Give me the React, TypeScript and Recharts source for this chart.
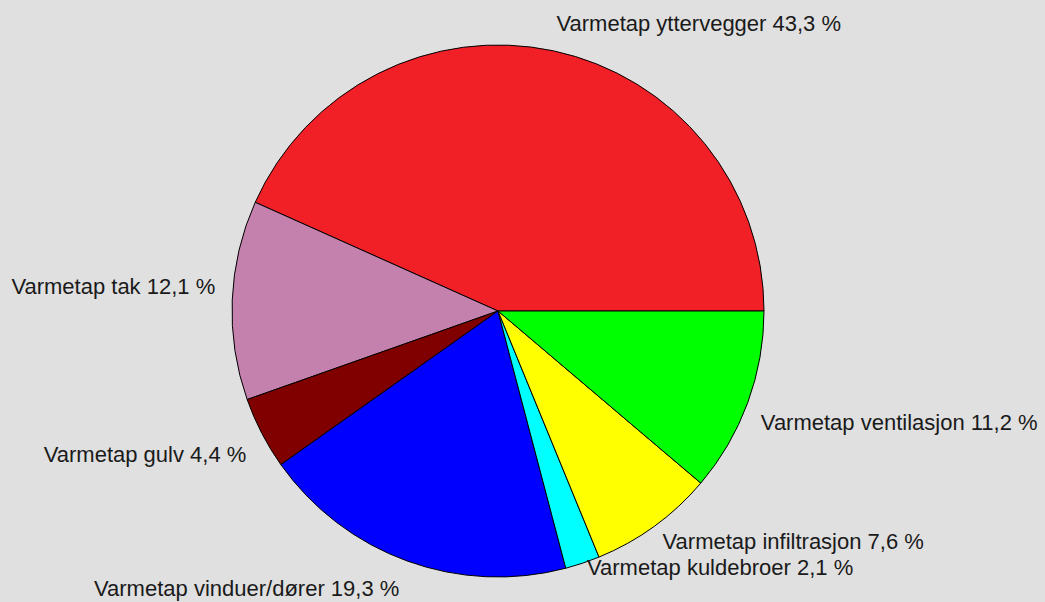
import React from "react";
import { PieChart, Pie, Cell } from "recharts";

const categories = [
  "Varmetap yttervegger",
  "Varmetap tak",
  "Varmetap gulv",
  "Varmetap vinduer/dører",
  "Varmetap kuldebroer",
  "Varmetap infiltrasjon",
  "Varmetap ventilasjon",
];
const values = [43.3, 12.1, 4.4, 19.3, 2.1, 7.6, 11.2];
const colors = ["#F02026", "#C581AE", "#800000", "#0000FF", "#00FFFF", "#FFFF00", "#00FF00"];
// vertical label nudges (label collision avoidance in the original)
const labelShiftY = [0, 0, 0, 0, -23, -11, 0];

const data = categories.map((name, i) => ({ name, value: values[i] }));

const RADIAN = Math.PI / 180;

const renderLabel = (props: any) => {
  const { cx, cy, midAngle, outerRadius, index } = props;
  const r = outerRadius + 14;
  const px = cx + r * Math.cos(-midAngle * RADIAN);
  const py = cy + r * Math.sin(-midAngle * RADIAN);
  const right = Math.cos(-midAngle * RADIAN) >= 0;
  const upper = Math.sin(-midAngle * RADIAN) < 0;
  const baseline = (upper ? py - 6 : py + 22) + labelShiftY[index];
  const text = `${categories[index]} ${values[index].toFixed(1).replace(".", ",")} %`;
  return (
    <text
      x={right ? px : px - 3}
      y={baseline}
      textAnchor={right ? "start" : "end"}
      fill="#1a1a1a"
      fontSize={22}
      fontFamily="'Liberation Sans', Arial, sans-serif"
    >
      {text}
    </text>
  );
};

export default function App() {
  return (
    <div
      style={{
        position: "absolute",
        left: 0,
        top: 0,
        width: 1045,
        height: 602,
        background: "#E0E0E0",
        overflow: "hidden",
      }}
    >
      <PieChart width={1045} height={602} margin={{ top: 0, right: 0, bottom: 0, left: 0 }}>
        <Pie
          data={data}
          dataKey="value"
          nameKey="name"
          cx={498}
          cy={311}
          outerRadius={266}
          startAngle={0}
          endAngle={360}
          stroke="#000000"
          strokeWidth={1}
          label={renderLabel}
          labelLine={false}
          isAnimationActive={false}
        >
          {data.map((d, i) => (
            <Cell key={d.name} fill={colors[i]} />
          ))}
        </Pie>
      </PieChart>
    </div>
  );
}
